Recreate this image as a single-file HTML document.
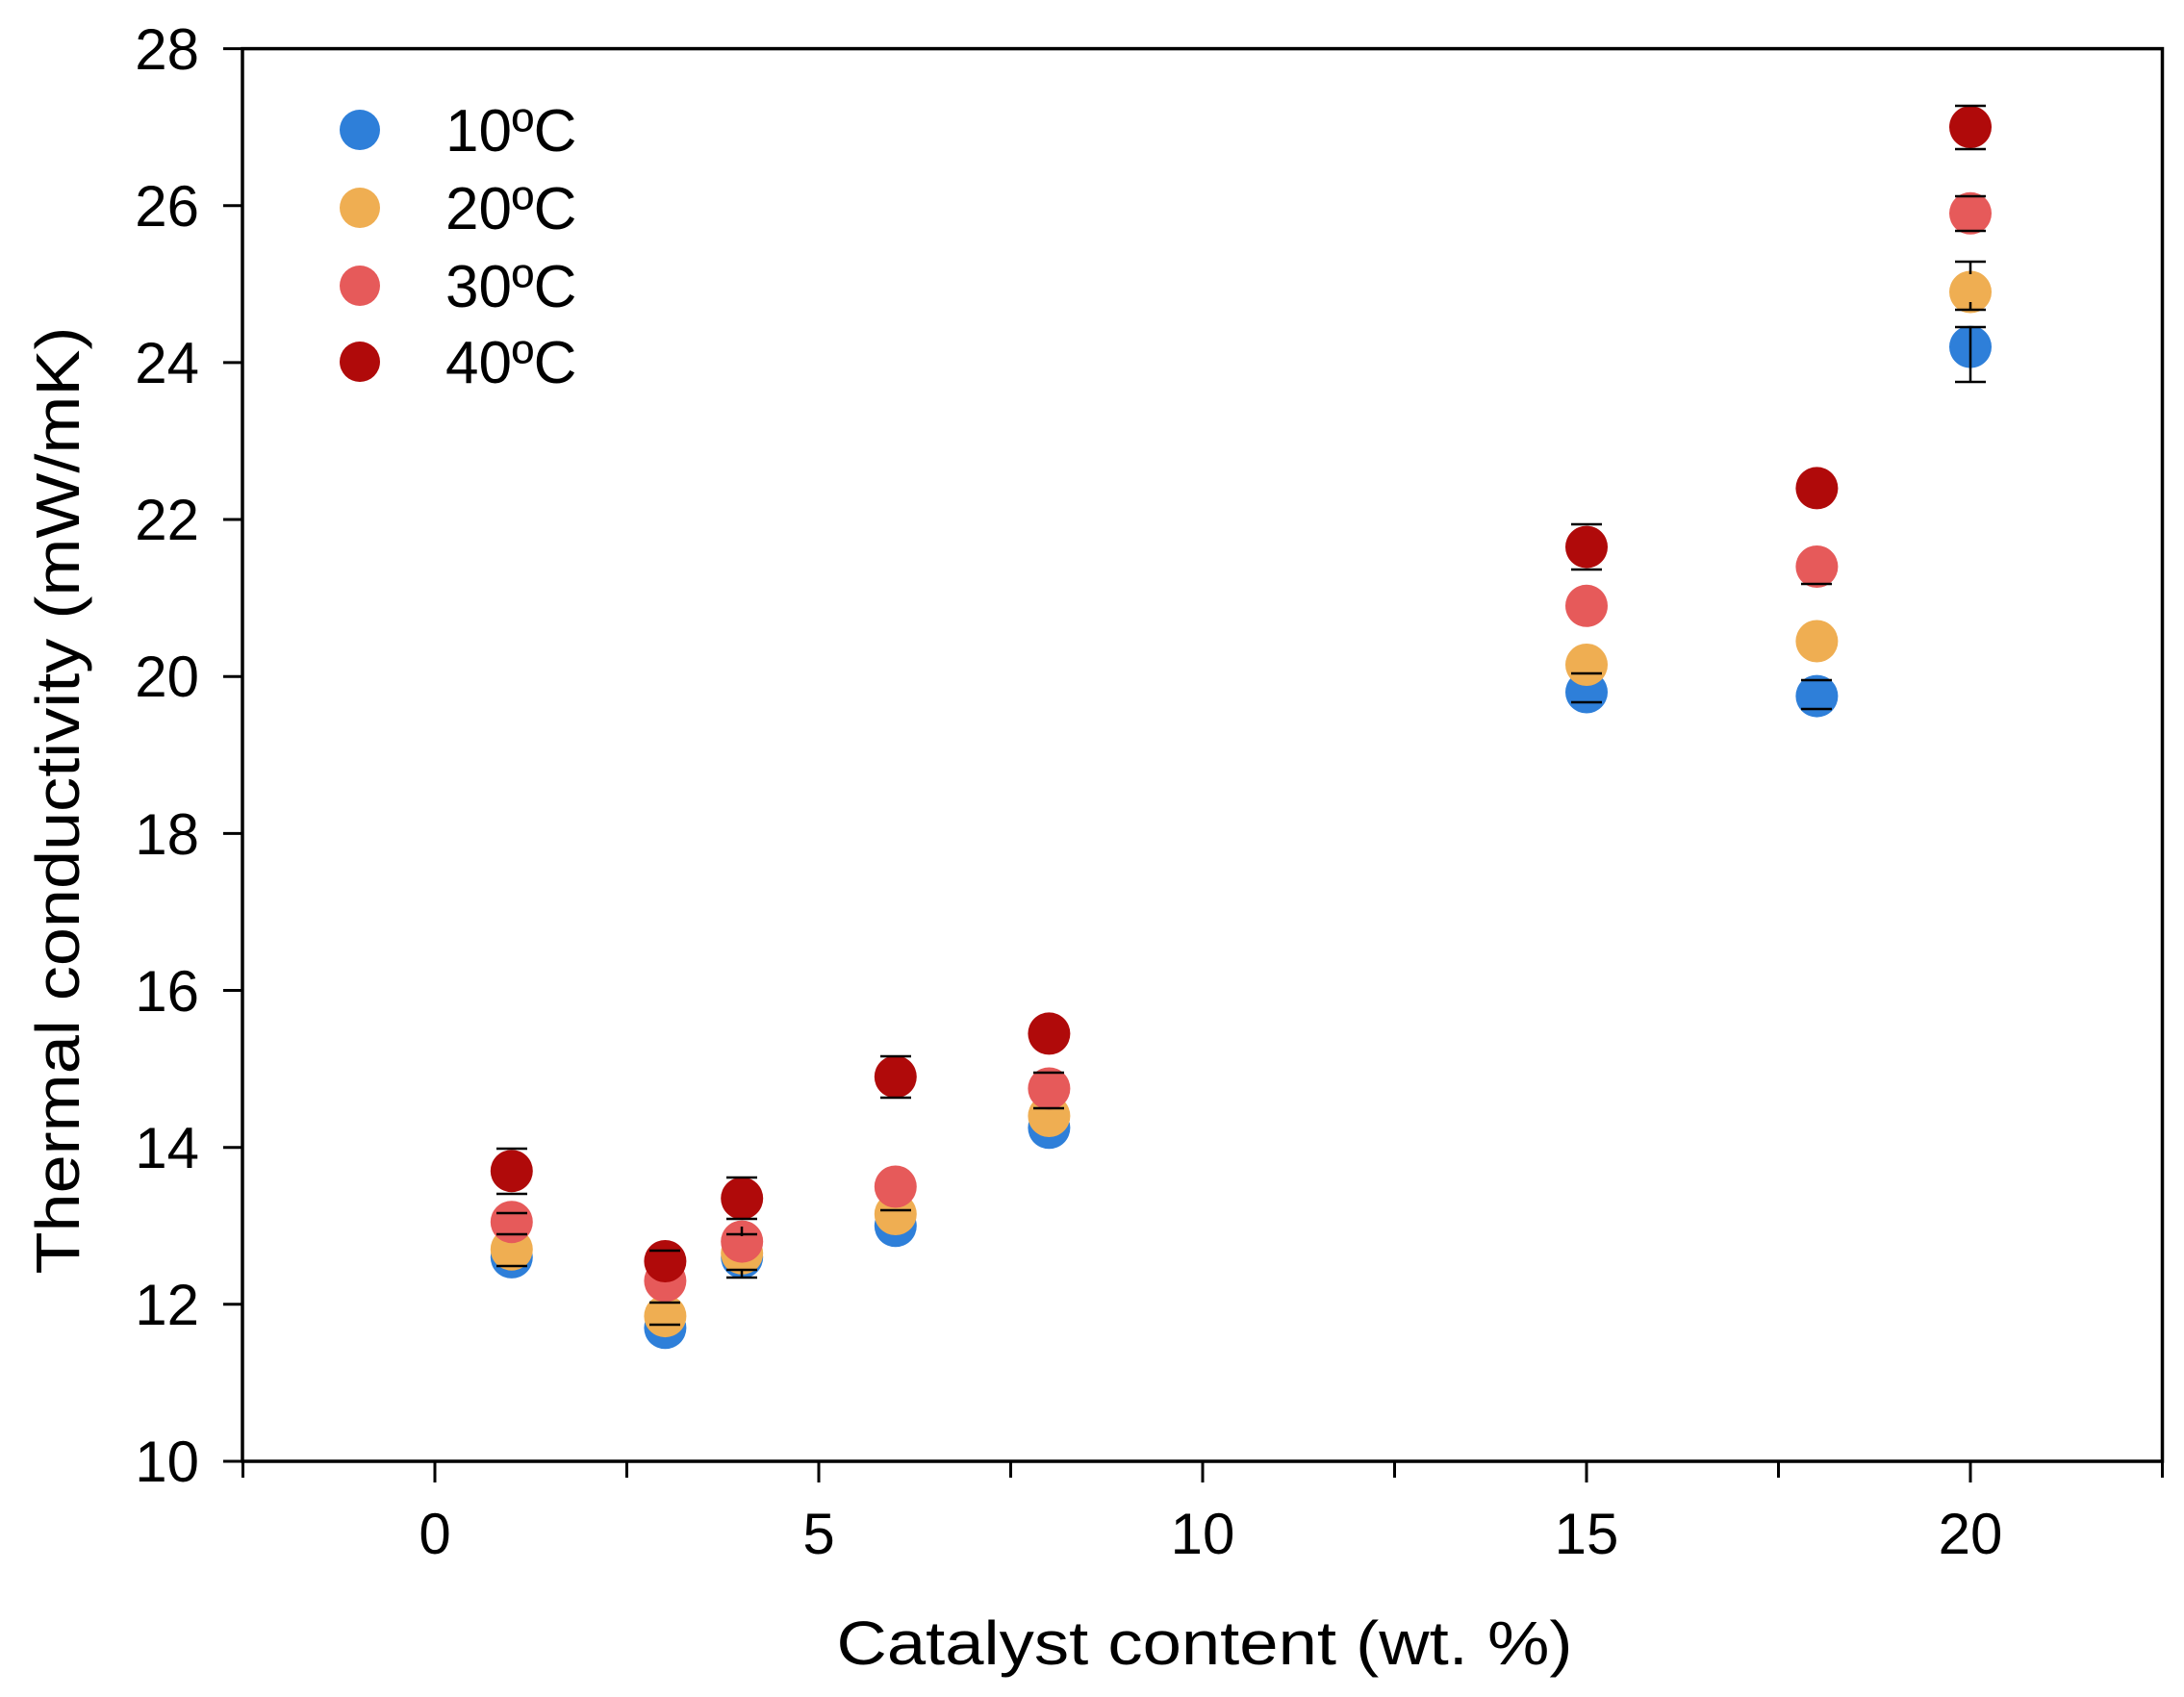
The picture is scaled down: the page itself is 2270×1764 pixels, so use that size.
<!DOCTYPE html>
<html><head><meta charset="utf-8"><style>
html,body{margin:0;padding:0;background:#fff;}
svg{display:block;}
text{font-family:"Liberation Sans",sans-serif;fill:#000;}
</style></head><body>
<svg width="2270" height="1764" viewBox="0 0 2270 1764" xmlns="http://www.w3.org/2000/svg">
<rect width="2270" height="1764" fill="#fff"/>
<rect x="252" y="50.6" width="1995.5" height="1468.4" fill="none" stroke="#000" stroke-width="3.5"/>
<g stroke="#000" stroke-width="3">
<line x1="232" y1="1519" x2="252" y2="1519"/><line x1="232" y1="1355.8" x2="252" y2="1355.8"/>
<line x1="232" y1="1192.7" x2="252" y2="1192.7"/><line x1="232" y1="1029.5" x2="252" y2="1029.5"/>
<line x1="232" y1="866.4" x2="252" y2="866.4"/><line x1="232" y1="703.2" x2="252" y2="703.2"/>
<line x1="232" y1="540" x2="252" y2="540"/><line x1="232" y1="376.9" x2="252" y2="376.9"/>
<line x1="232" y1="213.7" x2="252" y2="213.7"/><line x1="232" y1="50.6" x2="252" y2="50.6"/>
<line x1="252.5" y1="1519" x2="252.5" y2="1536"/><line x1="452" y1="1519" x2="452" y2="1541"/>
<line x1="651.5" y1="1519" x2="651.5" y2="1536"/><line x1="851" y1="1519" x2="851" y2="1541"/>
<line x1="1050.5" y1="1519" x2="1050.5" y2="1536"/><line x1="1250" y1="1519" x2="1250" y2="1541"/>
<line x1="1449.5" y1="1519" x2="1449.5" y2="1536"/><line x1="1649" y1="1519" x2="1649" y2="1541"/>
<line x1="1848.5" y1="1519" x2="1848.5" y2="1536"/><line x1="2048" y1="1519" x2="2048" y2="1541"/>
<line x1="2247.5" y1="1519" x2="2247.5" y2="1536"/>
</g>
<g font-size="60" text-anchor="end">
<text x="207" y="1540">10</text><text x="207" y="1377">12</text><text x="207" y="1214">14</text>
<text x="207" y="1051">16</text><text x="207" y="888">18</text><text x="207" y="724">20</text>
<text x="207" y="561">22</text><text x="207" y="398">24</text><text x="207" y="235">26</text>
<text x="207" y="72">28</text>
</g>
<g font-size="60" text-anchor="middle">
<text x="452" y="1615">0</text><text x="851" y="1615">5</text><text x="1250" y="1615">10</text>
<text x="1649" y="1615">15</text><text x="2048" y="1615">20</text>
</g>
<text x="1252" y="1730" font-size="64" text-anchor="middle" textLength="765" lengthAdjust="spacingAndGlyphs">Catalyst content (wt. %)</text>
<text transform="translate(82,832) rotate(-90)" font-size="64" text-anchor="middle" textLength="985" lengthAdjust="spacingAndGlyphs">Thermal conductivity (mW/mK)</text>
<circle cx="374" cy="135" r="21" fill="#2e7fd9"/>
<circle cx="374" cy="216" r="21" fill="#efae52"/>
<circle cx="374" cy="297" r="21" fill="#e65a5a"/>
<circle cx="374" cy="376" r="21" fill="#b00a0a"/>
<g font-size="62">
<text x="463" y="157">10ºC</text><text x="463" y="238">20ºC</text>
<text x="463" y="319">30ºC</text><text x="463" y="398">40ºC</text>
</g>
<g fill="#2e7fd9">
<circle cx="531.8" cy="1306.9" r="22"/><circle cx="691.4" cy="1380.3" r="22"/>
<circle cx="771.2" cy="1306.9" r="22"/><circle cx="930.8" cy="1274.3" r="22"/>
<circle cx="1090.4" cy="1172.3" r="22"/><circle cx="1649" cy="719.5" r="22"/>
<circle cx="1888.4" cy="723.6" r="22"/><circle cx="2048" cy="360.6" r="22"/>
</g>
<g fill="#efae52">
<circle cx="531.8" cy="1298.7" r="22"/><circle cx="691.4" cy="1368.1" r="22"/>
<circle cx="771.2" cy="1302.8" r="22"/><circle cx="930.8" cy="1262" r="22"/>
<circle cx="1090.4" cy="1160" r="22"/><circle cx="1649" cy="691" r="22"/>
<circle cx="1888.4" cy="666.5" r="22"/><circle cx="2048" cy="303.5" r="22"/>
</g>
<g fill="#e65a5a">
<circle cx="531.8" cy="1270.2" r="22"/><circle cx="691.4" cy="1331.4" r="22"/>
<circle cx="771.2" cy="1290.6" r="22"/><circle cx="930.8" cy="1233.5" r="22"/>
<circle cx="1090.4" cy="1131.5" r="22"/><circle cx="1649" cy="629.8" r="22"/>
<circle cx="1888.4" cy="589" r="22"/><circle cx="2048" cy="221.8" r="22"/>
</g>
<g fill="#b00a0a">
<circle cx="531.8" cy="1217.2" r="22"/><circle cx="691.4" cy="1311" r="22"/>
<circle cx="771.2" cy="1245.7" r="22"/><circle cx="930.8" cy="1119.3" r="22"/>
<circle cx="1090.4" cy="1074.4" r="22"/><circle cx="1649" cy="568.6" r="22"/>
<circle cx="1888.4" cy="507.4" r="22"/><circle cx="2048" cy="132.1" r="22"/>
</g>
<g stroke="#000" stroke-width="2.5">
<path d="M2048 340v57M2032 397h32M2032 340h32"/>
<path d="M2048 285v-13M2032 272h32M2048 322v-8M2032 322h32"/>
<path d="M2032 204h32M2032 240h32"/>
<path d="M2032 110h32M2032 155h32"/>
<path d="M1633 730h32M1633 700h32"/>
<path d="M1633 545h32M1633 592h32"/>
<path d="M1872 737h32M1872 707h32"/>
<path d="M1872 607h32"/>
<path d="M516 1194h32M516 1241h32M516 1261h32M516 1283h32M516 1316h32"/>
<path d="M675 1354h32M675 1377h32M675 1300h32"/>
<path d="M755 1224h32M755 1267h32M755 1283h32M755 1320h32M771 1320v8M755 1328h32M771 1275v10"/>
<path d="M915 1098h32M915 1141h32M915 1258h32"/>
<path d="M1074 1152h32M1074 1115h32"/>
</g>
</svg>
</body></html>
